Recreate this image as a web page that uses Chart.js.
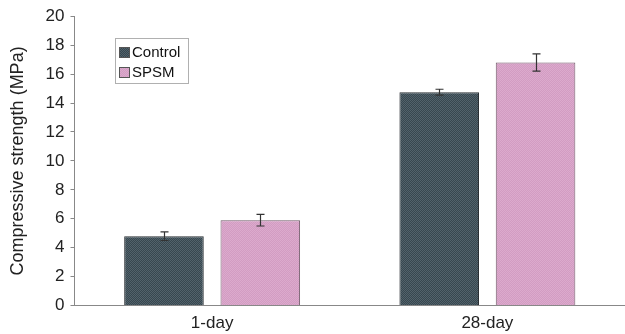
<!DOCTYPE html>
<html>
<head>
<meta charset="utf-8">
<script src="https://cdn.jsdelivr.net/npm/chart.js@4"></script>
<style>
  html, body { margin: 0; padding: 0; background: #fff; }
  #wrap { width: 625px; height: 334px; }
</style>
</head>
<body>
<div id="wrap"><canvas id="strengthChart"></canvas></div>
<script>
const categories = ['1-day', '28-day'];
const controlValues = [4.8, 14.75];
const spsmValues = [5.9, 16.8];
const controlErrors = [0.3, 0.2];
const spsmErrors = [0.4, 0.6];
const seriesNames = ['Control', 'SPSM'];
const yMax = 20;
const yStep = 2;

const fontFam = '"Liberation Sans", Arial, sans-serif';

// small textures so the bars look like the printed hatch fill
function makePattern(base, alt, size) {
    const c = document.createElement('canvas');
    c.width = size; c.height = size;
    const g = c.getContext('2d');
    g.fillStyle = base;
    g.fillRect(0, 0, size, size);
    g.fillStyle = alt;
    for (let y = 0; y < size; y++) {
        for (let x = 0; x < size; x++) {
            if ((x + y) % 2 === 0) g.fillRect(x, y, 1, 1);
        }
    }
    return g.createPattern(c, 'repeat');
}

const ctx = document.getElementById('strengthChart');
const controlFill = makePattern('#37474f', '#52626b', 4);
const spsmFill = makePattern('#d29cc2', '#dcaacd', 4);

const errorBars = {
    id: 'errorBars',
    afterDatasetsDraw(chart) {
        const g = chart.ctx;
        const yScale = chart.scales.y;
        const errs = [controlErrors, spsmErrors];
        g.save();
        g.strokeStyle = '#333';
        g.lineWidth = 1.2;
        chart.data.datasets.forEach((ds, i) => {
            const meta = chart.getDatasetMeta(i);
            meta.data.forEach((bar, j) => {
                const x = Math.round(bar.x) + 0.5;
                const top = yScale.getPixelForValue(ds.data[j] + errs[i][j]);
                const bot = yScale.getPixelForValue(ds.data[j] - errs[i][j]);
                g.beginPath();
                g.moveTo(x, top); g.lineTo(x, bot);
                g.moveTo(x - 4, top); g.lineTo(x + 4, top);
                g.moveTo(x - 4, bot); g.lineTo(x + 4, bot);
                g.stroke();
            });
        });
        g.restore();
    }
};

const boxLegend = {
    id: 'boxLegend',
    afterDraw(chart) {
        const g = chart.ctx;
        const left = 115, top = 38, w = 73, h = 45;
        g.save();
        g.strokeStyle = '#b0b0b0';
        g.lineWidth = 1;
        g.strokeRect(left + 0.5, top + 0.5, w, h);
        g.font = '15px ' + fontFam;
        g.textBaseline = 'middle';
        chart.data.datasets.forEach((ds, i) => {
            const cy = top + 14 + i * 20;
            g.fillStyle = ds.backgroundColor;
            g.fillRect(left + 4, cy - 5, 11, 11);
            g.strokeStyle = '#555';
            g.strokeRect(left + 4.5, cy - 4.5, 10, 10);
            g.fillStyle = '#111';
            g.fillText(ds.label, left + 17, cy + 1);
        });
        g.restore();
    }
};

new Chart(ctx, {
    type: 'bar',
    data: {
        labels: categories,
        datasets: [
            {
                label: seriesNames[0],
                data: controlValues,
                backgroundColor: controlFill,
                borderColor: '#2a2f33',
                borderWidth: 1
            },
            {
                label: seriesNames[1],
                data: spsmValues,
                backgroundColor: spsmFill,
                borderColor: '#6f5a68',
                borderWidth: 1
            }
        ]
    },
    options: {
        responsive: true,
        maintainAspectRatio: false,
        animation: false,
        layout: { padding: { top: 6, right: 0, left: 7, bottom: 0 } },
        datasets: {
            bar: { barPercentage: 0.826, categoryPercentage: 0.70 }
        },
        plugins: {
            legend: { display: false },
            tooltip: { enabled: false }
        },
        scales: {
            x: {
                grid: { display: false },
                border: { color: '#888', width: 1 },
                ticks: {
                    color: '#222',
                    font: { family: fontFam, size: 17 },
                    padding: 0
                }
            },
            y: {
                min: 0,
                max: yMax,
                grid: { drawOnChartArea: false, tickLength: 4, color: '#888' },
                border: { color: '#888', width: 1 },
                ticks: {
                    stepSize: yStep,
                    color: '#222',
                    padding: 6,
                    font: { family: fontFam, size: 17 }
                },
                title: {
                    display: true,
                    text: 'Compressive strength (MPa)',
                    color: '#222',
                    font: { family: fontFam, size: 18 },
                    padding: { top: 0, bottom: 11 }
                }
            }
        }
    },
    plugins: [errorBars, boxLegend]
});
</script>
</body>
</html>
